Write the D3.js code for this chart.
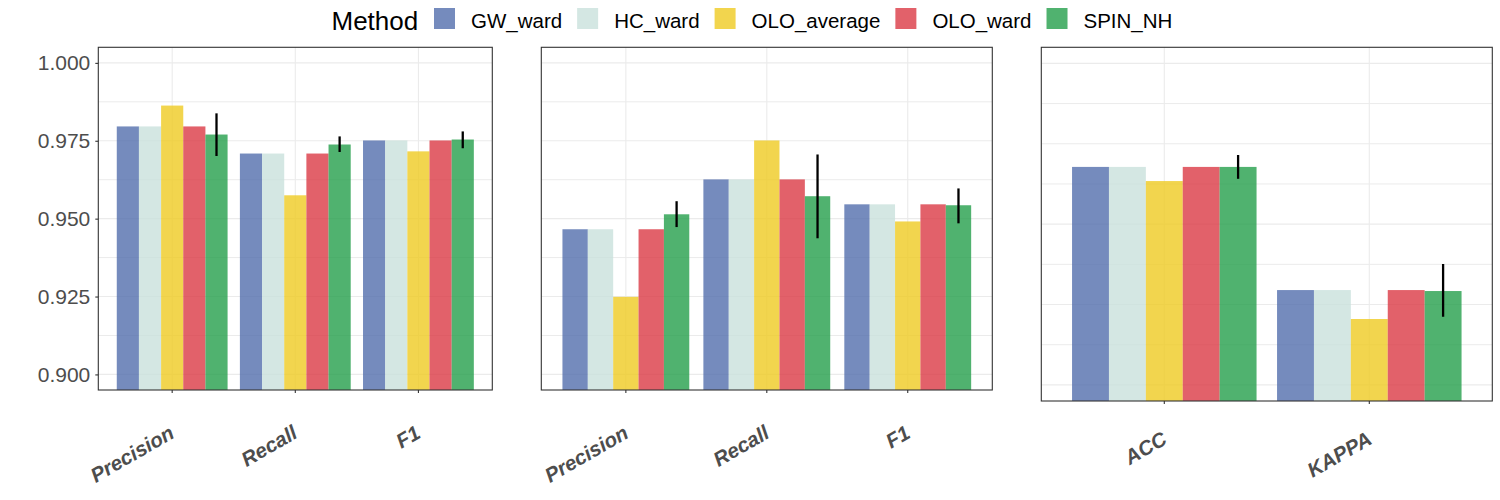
<!DOCTYPE html>
<html>
<head>
<meta charset="utf-8">
<script src="https://cdn.jsdelivr.net/npm/d3@7"></script>
<style>
  body { margin: 0; background: #fff; }
  svg { font-family: "Liberation Sans", Arial, sans-serif; }
</style>
</head>
<body>
<svg id="chart" width="1500" height="500"></svg>
<script>
// methods and their colours (drawn with alpha 0.8)
const methods = ['GW_ward', 'HC_ward', 'OLO_average', 'OLO_ward', 'SPIN_NH']
const methodColors = ['#526EAC', '#C9E1DC', '#EFCA22', '#DB3A45', '#249F4B']

// y axis
const yDomain = [0.895, 1.005]
const yTicks = [0.900, 0.925, 0.950, 0.975, 1.000]
const yMinorTicks = [0.9125, 0.9375, 0.9625, 0.9875]

// panel A (left)
const catsA = ['Precision', 'Recall', 'F1']
const valuesA = [            // rows = methods, cols = categories
  [0.9796, 0.9709, 0.9751],
  [0.9796, 0.9709, 0.9751],
  [0.9863, 0.9575, 0.9716],
  [0.9796, 0.9709, 0.9751],
  [0.9770, 0.9738, 0.9754]
]
const errLowA = [0.9701, 0.9714, 0.9726]
const errHighA = [0.9838, 0.9764, 0.9780]

// panel B (middle)
const catsB = ['Precision', 'Recall', 'F1']
const valuesB = [
  [0.9466, 0.9626, 0.9546],
  [0.9466, 0.9626, 0.9546],
  [0.9249, 0.9751, 0.9491],
  [0.9466, 0.9626, 0.9546],
  [0.9514, 0.9572, 0.9543]
]
const errLowB = [0.9473, 0.9437, 0.9485]
const errHighB = [0.9556, 0.9706, 0.9597]

// panel C (right)
const catsC = ['ACC', 'KAPPA']
const valuesC = [
  [0.9678, 0.9295],
  [0.9678, 0.9295],
  [0.9634, 0.9205],
  [0.9678, 0.9295],
  [0.9678, 0.9292]
]
const errLowC = [0.9641, 0.9212]
const errHighC = [0.9715, 0.9376]

const svg = d3.select('#chart')

const panels = [
  { cats: catsA, values: valuesA, lo: errLowA, hi: errHighA, x0: 98.3, x1: 492.3, y0: 47.3, y1: 390, yLabels: true, labY: 47, labX: 3.5 },
  { cats: catsB, values: valuesB, lo: errLowB, hi: errHighB, x0: 541.3, x1: 992.3, y0: 47.3, y1: 390, yLabels: false, labY: 47, labX: 4 },
  { cats: catsC, values: valuesC, lo: errLowC, hi: errHighC, x0: 1041.3, x1: 1492.3, y0: 47.3, y1: 401, yLabels: false, labY: 42, labX: 4 }
]

panels.forEach(drawPanel)

function drawPanel (p) {
  let xScale = d3.scaleBand().domain(p.cats).range([p.x0, p.x1])
    .paddingInner(0.1).paddingOuter(0.15)
  let xSub = d3.scaleBand().domain(methods).range([0, xScale.bandwidth()])
  let yScale = d3.scaleLinear().domain(yDomain).range([p.y1, p.y0])
  let color = d3.scaleOrdinal().domain(methods).range(methodColors)

  let g = svg.append('g')

  // grid
  g.selectAll('line.minor').data(yMinorTicks).enter().append('line')
    .attr('x1', p.x0).attr('x2', p.x1)
    .attr('y1', d => yScale(d)).attr('y2', d => yScale(d))
    .style('stroke', '#EBEBEB').style('stroke-width', 1)
  g.selectAll('line.major').data(yTicks).enter().append('line')
    .attr('x1', p.x0).attr('x2', p.x1)
    .attr('y1', d => yScale(d)).attr('y2', d => yScale(d))
    .style('stroke', '#EBEBEB').style('stroke-width', 1.1)
  g.selectAll('line.vgrid').data(p.cats).enter().append('line')
    .attr('x1', d => xScale(d) + xScale.bandwidth() / 2)
    .attr('x2', d => xScale(d) + xScale.bandwidth() / 2)
    .attr('y1', p.y0).attr('y2', p.y1)
    .style('stroke', '#EBEBEB').style('stroke-width', 1.1)

  // bars
  let barData = []
  p.cats.forEach((c, ci) => {
    methods.forEach((m, mi) => barData.push({ cat: c, method: m, value: p.values[mi][ci] }))
  })
  g.selectAll('rect.bar').data(barData).enter().append('rect')
    .attr('x', d => xScale(d.cat) + xSub(d.method))
    .attr('width', xSub.bandwidth())
    .attr('y', d => yScale(d.value))
    .attr('height', d => p.y1 - yScale(d.value))
    .style('fill', d => color(d.method))
    .style('fill-opacity', 0.8)

  // error bars (SPIN_NH)
  g.selectAll('line.err').data(p.cats).enter().append('line')
    .attr('x1', d => xScale(d) + xSub('SPIN_NH') + xSub.bandwidth() / 2)
    .attr('x2', d => xScale(d) + xSub('SPIN_NH') + xSub.bandwidth() / 2)
    .attr('y1', (d, i) => yScale(p.lo[i]))
    .attr('y2', (d, i) => yScale(p.hi[i]))
    .style('stroke', '#000').style('stroke-width', 2.3)

  // border
  g.append('rect')
    .attr('x', p.x0).attr('y', p.y0)
    .attr('width', p.x1 - p.x0).attr('height', p.y1 - p.y0)
    .style('fill', 'none').style('stroke', '#333333').style('stroke-width', 1.1)

  // x axis
  let xAxis = d3.axisBottom(xScale).tickSize(3).tickSizeOuter(0)
  let xg = g.append('g').attr('transform', `translate(0, ${p.y1})`).call(xAxis)
  xg.select('.domain').remove()
  xg.selectAll('.tick line').style('stroke', '#333333').style('stroke-width', 1.1)
  xg.selectAll('text')
    .attr('x', p.labX).attr('y', p.labY).attr('dy', 0)
    .attr('text-anchor', 'end')
    .attr('transform', `rotate(-30, ${p.labX}, ${p.labY})`)
    .style('font-family', '"Liberation Sans", Arial, sans-serif')
    .style('font-size', '20.5px').style('font-weight', 'bold').style('font-style', 'italic')
    .style('fill', '#4D4D4D')

  // y axis
  if (p.yLabels) {
    let yAxis = d3.axisLeft(yScale).tickValues(yTicks).tickFormat(d3.format('.3f'))
      .tickSize(3).tickPadding(5)
    let yg = g.append('g').attr('transform', `translate(${p.x0}, 0)`).call(yAxis)
    yg.select('.domain').remove()
    yg.selectAll('.tick line').style('stroke', '#333333').style('stroke-width', 1.1)
    yg.selectAll('text')
      .style('font-family', '"Liberation Sans", Arial, sans-serif')
      .style('font-size', '21px').style('fill', '#4D4D4D')
  }
}

// legend
let legend = svg.append('g')
legend.append('text').attr('x', 331.5).attr('y', 30)
  .style('font-size', '26px').style('fill', '#000').text('Method')

let lx = 434
methods.forEach((m, i) => {
  legend.append('rect').attr('x', lx).attr('y', 8).attr('width', 21).attr('height', 21)
    .style('fill', methodColors[i]).style('fill-opacity', 0.8)
  let t = legend.append('text').attr('x', lx + 37).attr('y', 27.5)
    .style('font-size', '20.5px').style('fill', '#000').text(m)
  lx = lx + 37 + t.node().getComputedTextLength() + 15
})
</script>
</body>
</html>
